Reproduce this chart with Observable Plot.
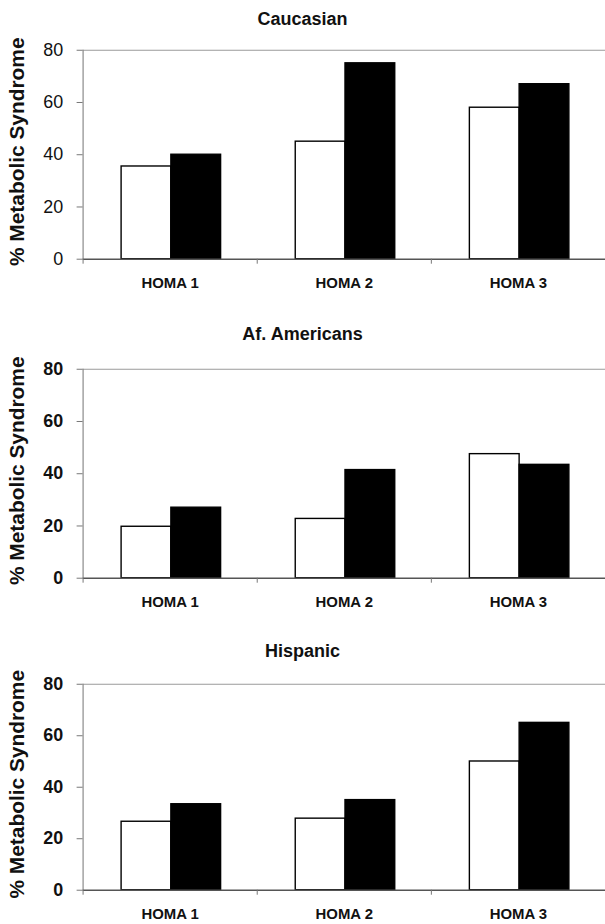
<!DOCTYPE html>
<html><head><meta charset="utf-8">
<script src="https://cdn.jsdelivr.net/npm/d3@7"></script>
<script src="https://cdn.jsdelivr.net/npm/@observablehq/plot@0.6"></script>
<style>
body{margin:0;background:#fff;}
#wrap{position:relative;width:605px;height:924px;overflow:hidden;font-family:"Liberation Sans",Arial,sans-serif;background:#fff;}
.panel{position:absolute;left:0;}
.title{position:absolute;left:0;width:605px;text-align:center;font-weight:bold;font-size:18px;line-height:18px;color:#111;}
</style></head><body><div id="wrap"></div>
<script>
// ---- data ----
const categories = ["HOMA 1", "HOMA 2", "HOMA 3"];
const panelTitles = ["Caucasian", "Af. Americans", "Hispanic"];
const whiteValues = [[35.5, 45, 58], [19.7, 22.7, 47.5], [26.6, 27.8, 50]];
const blackValues = [[40, 75, 67], [27, 41.4, 43.4], [33.4, 35, 65]];
const yTicks = [0, 20, 40, 60, 80];
const yLabel = "% Metabolic Syndrome";

// ---- layout ----
const panelTops = [0, 319, 634];
const plotHeights = [210, 210, 207];
const titleBaselines = [25, 21, 23];
const tickWeights = ["normal", "bold", "bold"];
const W = 608, ML = 83, MT = 50, MB = 40;
const bw = (W - ML) / 3;

const wrap = document.getElementById("wrap");
panelTitles.forEach((title, p) => {
  const rows = categories.map((c, i) => ({homa: c, white: whiteValues[p][i], black: blackValues[p][i]}));
  const chart = Plot.plot({
    width: W,
    height: MT + plotHeights[p] + MB,
    marginLeft: ML, marginRight: 0, marginTop: MT, marginBottom: MB,
    style: {fontFamily: '"Liberation Sans", Arial, sans-serif', background: "transparent", overflow: "visible"},
    x: {domain: categories, padding: 0, axis: null},
    y: {domain: [0, 80], axis: null},
    marks: [
      Plot.ruleY([80], {stroke: "#9a9a9a", strokeWidth: 1.2}),
      Plot.ruleX([categories[0]], {x: d => d, dx: -bw / 2, y1: 0, y2: 80, stroke: "#8a8a8a", strokeWidth: 1.2}),
      Plot.barY(rows, {x: "homa", y: "white", fill: "white", stroke: "black", strokeWidth: 1.4, insetLeft: 38.7, insetRight: 86.3}),
      Plot.barY(rows, {x: "homa", y: "black", fill: "black", stroke: "black", strokeWidth: 1.4, insetLeft: 88.7, insetRight: 36.3}),
      Plot.ruleY([0], {stroke: "#555", strokeWidth: 1.6}),
      Plot.axisX({tickSize: 5, tickFormat: () => "", dx: -bw / 2, stroke: "#777", label: null}),
      Plot.axisX({tickSize: 0, tickPadding: 18, fontSize: 15, fontWeight: "bold", fill: "#111", label: null}),
      Plot.axisY({ticks: yTicks, tickSize: 6, tickPadding: 14, fontSize: 18, fontWeight: tickWeights[p], fill: "#111", stroke: "#777", label: null}),
      Plot.text([yLabel], {frameAnchor: "left", dx: -66, dy: -3, rotate: -90, fontSize: 21, fontWeight: "bold", textAnchor: "middle", lineAnchor: "middle", fill: "#111"})
    ]
  });
  const holder = document.createElement("div");
  holder.className = "panel";
  holder.style.top = panelTops[p] + "px";
  holder.appendChild(chart);
  wrap.appendChild(holder);
  const t = document.createElement("div");
  t.className = "title";
  t.style.top = (panelTops[p] + titleBaselines[p] - 15) + "px";
  t.textContent = title;
  wrap.appendChild(t);
});
</script></body></html>
